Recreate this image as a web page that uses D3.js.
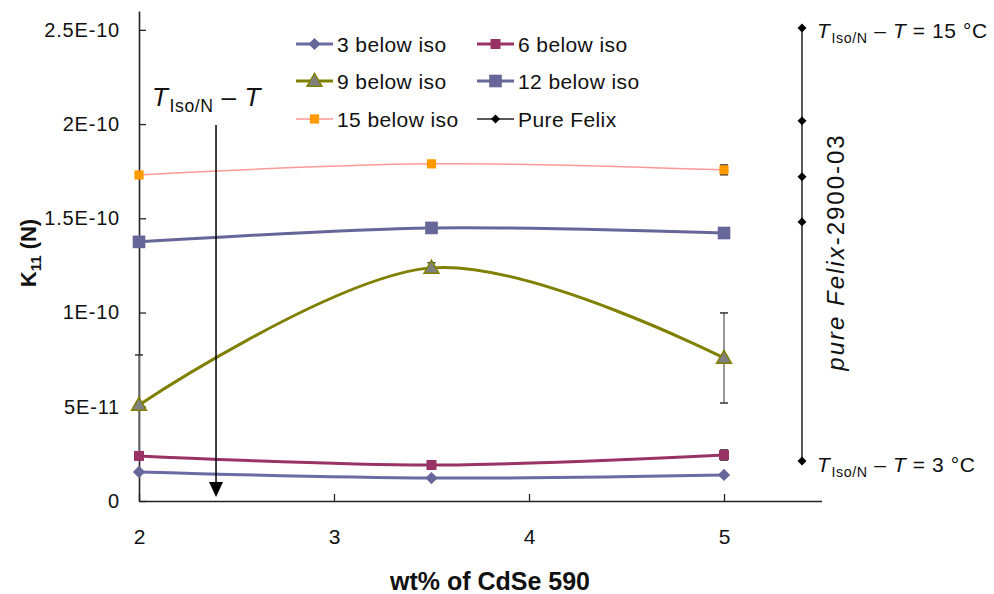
<!DOCTYPE html>
<html>
<head>
<meta charset="utf-8">
<script src="https://cdn.jsdelivr.net/npm/d3@7"></script>
<style>
  body { margin: 0; background: #fff; }
  svg { font-family: "Liberation Sans", Arial, sans-serif; }
</style>
</head>
<body>
<svg id="chart" width="994" height="594"></svg>
<script>
// wt% of CdSe 590
let xValues = [2, 3.5, 5];
let seriesNames = ["3 below iso", "6 below iso", "9 below iso", "12 below iso", "15 below iso"];
let k3 = [1.54e-11, 1.22e-11, 1.38e-11];
let k6 = [2.39e-11, 1.91e-11, 2.44e-11];
let k9 = [5.1e-11, 1.237e-10, 7.59e-11];
let k12 = [1.375e-10, 1.449e-10, 1.422e-10];
let k15 = [1.730e-10, 1.789e-10, 1.757e-10];
// error bars (half widths)
let err3 = [0, 0, 0];
let err6 = [0, 0, 2.7e-12];
let err9 = [2.65e-11, 2.7e-12, 2.39e-11];
let err12 = [0, 0, 0];
let err15 = [0, 0, 2.6e-12];
// pure Felix, T_Iso/N - T = 3, 6, 9, 12, 15
let pureX = 5.4;
let pureValues = [2.12e-11, 1.481e-10, 1.72e-10, 2.017e-10, 2.51e-10];

let yTicks = [0, 5e-11, 1e-10, 1.5e-10, 2e-10, 2.5e-10];
let yTickLabels = ["0", "5E-11", "1E-10", "1.5E-10", "2E-10", "2.5E-10"];
let xTicks = [2, 3, 4, 5];

let svg = d3.select("#chart");

let x = d3.scaleLinear().domain([2, 5.5]).range([139, 821.5]);
let y = d3.scaleLinear().domain([0, 2.6e-10]).range([501, 11]);

// axes
let yAxis = svg.append("g")
    .attr("transform", "translate(139,0)")
    .call(d3.axisLeft(y).tickValues(yTicks).tickSizeInner(-7).tickSizeOuter(0).tickPadding(19)
        .tickFormat((d, i) => yTickLabels[i]));
yAxis.select(".domain").attr("stroke", "#222").attr("stroke-width", 1.6);
yAxis.selectAll(".tick line").attr("stroke", "#222").attr("stroke-width", 1.3);
yAxis.selectAll(".tick text").attr("font-size", 20).attr("fill", "#111")
    .attr("font-family", "Liberation Sans, Arial, sans-serif").style("letter-spacing", "0.8px");

let xAxis = svg.append("g")
    .attr("transform", "translate(0,501)")
    .call(d3.axisBottom(x).tickValues(xTicks).tickSizeInner(-7).tickSizeOuter(0).tickPadding(28)
        .tickFormat(d3.format("d")));
xAxis.select(".domain").attr("stroke", "#222").attr("stroke-width", 1.6);
xAxis.selectAll(".tick line").attr("stroke", "#222").attr("stroke-width", 1.3);
xAxis.selectAll(".tick text").attr("font-size", 21).attr("fill", "#111")
    .attr("font-family", "Liberation Sans, Arial, sans-serif");

// axis titles
svg.append("text")
    .attr("x", 490).attr("y", 590)
    .attr("text-anchor", "middle")
    .attr("font-size", 25).attr("font-weight", "bold").attr("fill", "#111")
    .text("wt% of CdSe 590");

let yTitle = svg.append("text")
    .attr("transform", "translate(36,253) rotate(-90)")
    .attr("text-anchor", "middle")
    .attr("font-size", 22).attr("font-weight", "bold").attr("fill", "#111");
yTitle.append("tspan").text("K");
yTitle.append("tspan").attr("font-size", 15).attr("dy", 5).text("11");
yTitle.append("tspan").attr("dy", -5).text(" (N)");

// series
let series = [
    {name: seriesNames[0], values: k3, err: err3, color: "#6b6ba3", width: 3, marker: "diamond", size: 75, fill: "#666699", mstroke: "none"},
    {name: seriesNames[1], values: k6, err: err6, color: "#993366", width: 3, marker: "square", size: 100, fill: "#993366", mstroke: "none"},
    {name: seriesNames[2], values: k9, err: err9, color: "#808000", width: 3, marker: "triangle", size: 95, fill: "#808080", mstroke: "#808000"},
    {name: seriesNames[3], values: k12, err: err12, color: "#666699", width: 3, marker: "square", size: 160, fill: "#666699", mstroke: "none"},
    {name: seriesNames[4], values: k15, err: err15, color: "#ff9999", width: 1.5, marker: "square", size: 85, fill: "#ff9900", mstroke: "none"}
];
let symbolTypes = {diamond: d3.symbolSquare, square: d3.symbolSquare, triangle: d3.symbolTriangle};
function markerTransform(m) {
    if (m === "diamond") return " rotate(45)";
    if (m === "triangle") return " translate(0,1)";
    return "";
}

let line = d3.line()
    .x(d => x(d[0]))
    .y(d => y(d[1]))
    .curve(d3.curveCardinal.tension(0));

series.forEach(s => {
    let pts = xValues.map((xv, i) => [xv, s.values[i]]);
    svg.append("path")
        .datum(pts)
        .attr("d", line)
        .attr("fill", "none")
        .attr("stroke", s.color)
        .attr("stroke-width", s.width);
});

// error bars
series.forEach(s => {
    xValues.forEach((xv, i) => {
        let e = s.err[i];
        if (!e) return;
        let g = svg.append("g").attr("stroke", "#333").attr("stroke-width", 1.5);
        g.append("line").attr("x1", x(xv)).attr("x2", x(xv))
            .attr("y1", y(s.values[i] - e)).attr("y2", y(s.values[i] + e)).attr("stroke", "#777");
        [s.values[i] - e, s.values[i] + e].forEach(v => {
            g.append("line").attr("x1", x(xv) - 4).attr("x2", x(xv) + 4)
                .attr("y1", y(v)).attr("y2", y(v));
        });
    });
});

series.forEach(s => {
    svg.append("g").selectAll("path")
        .data(xValues.map((xv, i) => [xv, s.values[i]]))
        .enter().append("path")
        .attr("transform", d => `translate(${x(d[0])},${y(d[1])})` + markerTransform(s.marker))
        .attr("d", d3.symbol().type(symbolTypes[s.marker]).size(s.size))
        .attr("fill", s.fill)
        .attr("stroke", s.mstroke)
        .attr("stroke-width", 1.5);
});

// pure Felix column
svg.append("path")
    .datum(pureValues.map(v => [pureX, v]))
    .attr("d", d3.line().x(d => x(d[0])).y(d => y(d[1])))
    .attr("fill", "none")
    .attr("stroke", "#222")
    .attr("stroke-width", 1.5);
svg.append("g").selectAll("path")
    .data(pureValues)
    .enter().append("path")
    .attr("transform", d => `translate(${x(pureX)},${y(d)}) rotate(45)`)
    .attr("d", d3.symbol().type(d3.symbolSquare).size(40))
    .attr("fill", "#000");

function tLabel(g, xPos, yPos, size, tail) {
    let t = g.append("text").attr("x", xPos).attr("y", yPos)
        .attr("font-size", size).attr("fill", "#111");
    t.append("tspan").attr("font-style", "italic").text("T");
    t.append("tspan").attr("font-size", size * 0.68).attr("dy", size * 0.22).attr("dx", 1).text("Iso/N");
    t.append("tspan").attr("dy", -size * 0.22).text(" \u2013 ");
    t.append("tspan").attr("font-style", "italic").text("T");
    if (tail) t.append("tspan").text(tail);
    return t;
}

tLabel(svg, 817, 38, 21, " = 15 \u00b0C").style("letter-spacing", "0.6px");
tLabel(svg, 817, 472, 21, " = 3 \u00b0C").style("letter-spacing", "0.6px");

let felix = svg.append("text")
    .attr("transform", "translate(844,252) rotate(-90)")
    .attr("text-anchor", "middle")
    .attr("font-size", 24).attr("fill", "#111")
    .style("letter-spacing", "2px");
felix.append("tspan").attr("font-style", "italic").text("pure Felix");
felix.append("tspan").text("-2900-03");

// arrow annotation
tLabel(svg, 152, 106, 26, null).style("letter-spacing", "0.6px");
svg.append("line")
    .attr("x1", x(2.395)).attr("x2", x(2.395))
    .attr("y1", 125).attr("y2", 484)
    .attr("stroke", "#000").attr("stroke-width", 1.5);
svg.append("path")
    .attr("d", `M${x(2.395) - 7},482 L${x(2.395) + 7},482 L${x(2.395)},497 Z`)
    .attr("fill", "#000");

// legend
let legendItems = series.map(s => ({name: s.name, color: s.color, width: s.width, marker: s.marker, size: s.size, fill: s.fill, mstroke: s.mstroke}));
legendItems.push({name: "Pure Felix", color: "#222", width: 1.5, marker: "diamond", size: 40, fill: "#000", mstroke: "none"});
let legendX = [296, 477];
let legendY = [44, 81, 119];
legendItems.forEach((it, i) => {
    let lx = legendX[i % 2], ly = legendY[Math.floor(i / 2)];
    let g = svg.append("g").attr("transform", `translate(${lx},${ly})`);
    g.append("line").attr("x1", 0).attr("x2", 37).attr("y1", 0).attr("y2", 0)
        .attr("stroke", it.color).attr("stroke-width", it.width);
    g.append("path")
        .attr("transform", "translate(18.5,0)" + markerTransform(it.marker))
        .attr("d", d3.symbol().type(symbolTypes[it.marker]).size(it.size))
        .attr("fill", it.fill).attr("stroke", it.mstroke).attr("stroke-width", 1.5);
    g.append("text").attr("x", 41).attr("y", 7.5)
        .attr("font-size", 21).attr("fill", "#111")
        .style("letter-spacing", "0.4px")
        .text(it.name);
});
</script>
</body>
</html>
